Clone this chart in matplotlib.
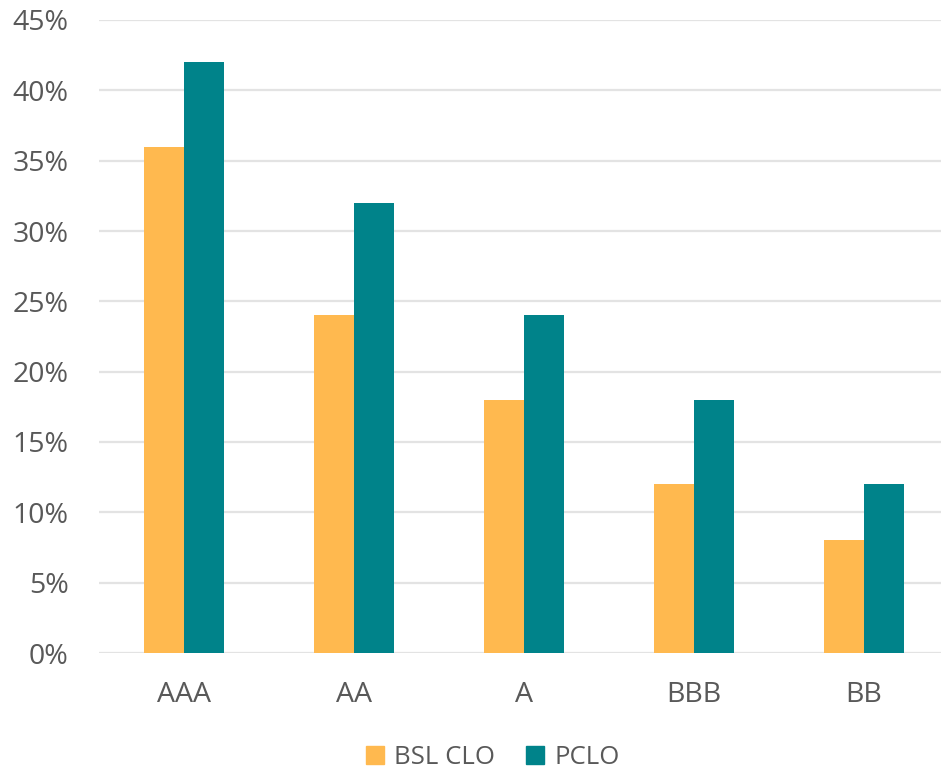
import matplotlib
matplotlib.use("Agg")
import matplotlib.pyplot as plt
import numpy as np
from matplotlib.ticker import FuncFormatter
from matplotlib.patches import Patch

categories = ["AAA", "AA", "A", "BBB", "BB"]
bsl_clo = [36, 24, 18, 12, 8]
pclo = [42, 32, 24, 18, 12]
series_names = ["BSL CLO", "PCLO"]
yticks = [0, 5, 10, 15, 20, 25, 30, 35, 40, 45]

ORANGE = "#FFB94F"
TEAL = "#00838A"
TEXT = "#595959"
GRID = "#E3E3E3"

plt.rcParams['font.family'] = ['Open Sans', 'DejaVu Sans']

fig = plt.figure(figsize=(9.41, 7.69), dpi=100)
W, H = 941, 769
left, right, bottom, top = 99, 949, 653, 20
ax = fig.add_axes([left / W, 1 - bottom / H, (right - left) / W, (bottom - top) / H])

x = np.arange(len(categories))
bw = 0.238
ax.bar(x - bw / 2, bsl_clo, bw, color=ORANGE, label=series_names[0], zorder=3)
ax.bar(x + bw / 2, pclo, bw, color=TEAL, label=series_names[1], zorder=3)

ax.set_xlim(-0.5, len(categories) - 0.5)
ax.set_ylim(0, 45)
ax.set_yticks(yticks)
ax.yaxis.set_major_formatter(FuncFormatter(lambda v, p: f"{int(v)}%"))
ax.set_xticks(x)
ax.set_xticklabels(categories)
ax.grid(axis='y', color=GRID, linewidth=1.6, zorder=0)
ax.set_axisbelow(True)
for s in ax.spines.values():
    s.set_visible(False)
ax.tick_params(axis='both', length=0, labelsize=20.5, colors=TEXT)
ax.tick_params(axis='y', pad=22)
ax.tick_params(axis='x', pad=20)

handles = [Patch(color=ORANGE), Patch(color=TEAL)]
fig.legend(handles, series_names, loc='center', bbox_to_anchor=(493 / W, 1 - 757 / H),
           ncol=2, frameon=False, fontsize=18.5, labelcolor=TEXT,
           handlelength=0.7, handleheight=0.7, handletextpad=0.4, columnspacing=1.2)

fig.savefig("out.png", dpi=100)
